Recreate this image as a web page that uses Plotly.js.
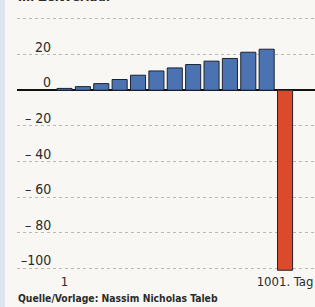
<!DOCTYPE html>
<html>
<head>
<meta charset="utf-8">
<script src="https://cdn.plot.ly/plotly-3.0.1.min.js"></script>
<style>html,body{margin:0;padding:0;background:#f8f7f3;}#chart{width:315px;height:307px;}</style>
</head>
<body>
<div id="chart"></div>
<script>
// Data
var days = [1, 2, 3, 4, 5, 6, 7, 8, 9, 10, 11, 12, 13];
var values = [1, 2, 3.7, 6, 8.4, 10.8, 12.5, 14.4, 16.3, 17.8, 21.3, 23, -101];
var barColors = ["#4b73b2","#4b73b2","#4b73b2","#4b73b2","#4b73b2","#4b73b2","#4b73b2","#4b73b2","#4b73b2","#4b73b2","#4b73b2","#4b73b2","#dc4a2c"];
var xTickVals = [1, 13];
var xTickText = ["1", "1001. Tag"];
var yTickVals = [40, 20, 0, -20, -40, -60, -80, -100];
var yTickText = ["", "20", "0", "\u2013 20", "\u2013 40", "\u2013 60", "\u2013 80", "\u2013100"];
var titleText = "im Zeitverlauf";
var sourceText = "Quelle/Vorlage: Nassim Nicholas Taleb";

var FONT = "'DejaVu Sans Condensed', 'Liberation Sans Narrow', sans-serif";
var TXT = "#2b2b2b";

var annotations = [];
for (var i = 0; i < yTickVals.length; i++) {
  if (!yTickText[i]) continue;
  annotations.push({
    xref: "paper", yref: "y", x: 0.1174, y: yTickVals[i],
    xanchor: "right", yanchor: "bottom", yshift: -1,
    text: yTickText[i], showarrow: false, borderpad: 0,
    font: {family: FONT, size: 14, color: TXT}
  });
}
annotations.push({
  xref: "paper", yref: "paper", x: 0, y: 1.02, xanchor: "left", yanchor: "bottom",
  text: "<b>" + titleText + "</b>", showarrow: false, borderpad: 0,
  font: {family: FONT, size: 13, color: TXT}
});
annotations.push({
  xref: "paper", yref: "paper", x: 0, y: -0.10, xanchor: "left", yanchor: "middle",
  text: "<b>" + sourceText + "</b>", showarrow: false, borderpad: 0,
  font: {family: FONT, size: 10.3, color: TXT}
});

var trace = {
  type: "bar",
  x: days,
  y: values,
  width: 0.82,
  marker: {color: barColors, line: {color: "#1e2230", width: 1}},
  hoverinfo: "none"
};

var layout = {
  width: 315, height: 307,
  margin: {l: 17, r: 0, t: 10, b: 35},
  paper_bgcolor: "#f8f7f3",
  plot_bgcolor: "#f8f7f3",
  showlegend: false,
  xaxis: {
    range: [-1.585, 14.63],
    tickvals: xTickVals, ticktext: xTickText,
    ticklabeloverflow: "allow",
    showgrid: false, zeroline: false, showline: false,
    ticks: "", ticklen: 0,
    tickfont: {family: FONT, size: 13, color: TXT}
  },
  yaxis: {
    range: [-102, 45],
    tickvals: yTickVals, showticklabels: false,
    showgrid: true, gridcolor: "#bdb7ad", gridwidth: 1, griddash: "dot",
    zeroline: true, zerolinecolor: "#111111", zerolinewidth: 2,
    showline: false, ticks: ""
  },
  shapes: [{
    type: "rect", xref: "paper", yref: "paper", layer: "above",
    x0: -17/298, x1: -12/298, y0: -0.2, y1: 1.05,
    fillcolor: "#dfe5ee", line: {width: 0}
  }],
  annotations: annotations
};

Plotly.newPlot("chart", [trace], layout, {displayModeBar: false, staticPlot: true});
</script>
</body>
</html>
